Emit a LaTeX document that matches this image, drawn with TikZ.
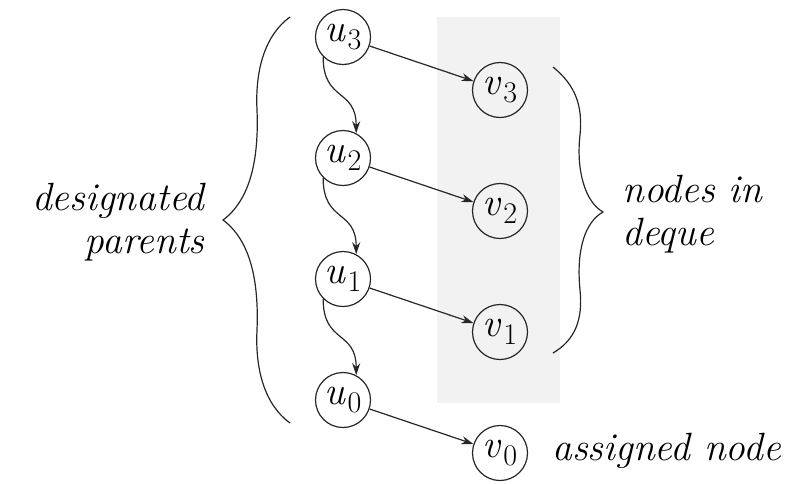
\documentclass[tikz,border=0pt]{standalone}
\usetikzlibrary{arrows.meta}
\newcommand{\vlabel}[2]{\textit{#1}\kern0.6pt\raisebox{-4pt}{\fontsize{15}{15}\selectfont #2}}
\begin{document}
\begin{tikzpicture}[x=0.5pt, y=-0.5pt, node distance=60.5pt, font=\fontsize{19.7}{21.5}\selectfont,
		vert/.style={circle, draw=black!85, line width=0.6pt, minimum size=27.5pt, inner sep=0pt},
		link/.style={-{Stealth[length=6pt, width=4pt]}, draw=black!85, line width=0.6pt},
		curly/.style={draw=black!85, line width=0.6pt},
		note/.style={font=\fontsize{19.7}{21.5}\selectfont\itshape, inner sep=0pt}]
	\useasboundingbox (0,0) rectangle (801,483);
	% deque band
	\fill[black!5] (437,17) rectangle (560,403);
	\node[vert] (u3) at (343,37) {\vlabel{u}{3}};
	\node[vert, below of=u3] (u2) {\vlabel{u}{2}};
	\node[vert, below of=u2] (u1) {\vlabel{u}{1}};
	\node[vert, below of=u1] (u0) {\vlabel{u}{0}};
	\node[vert, right of=u3, xshift=18pt, yshift=-26.5pt] (v3) {\vlabel{v}{3}};
	\node[vert, right of=u2, xshift=18pt, yshift=-26.5pt] (v2) {\vlabel{v}{2}};
	\node[vert, right of=u1, xshift=18pt, yshift=-26.5pt] (v1) {\vlabel{v}{1}};
	\node[vert, right of=u0, xshift=18pt, yshift=-26.5pt] (v0) {\vlabel{v}{0}};
	\node[note, align=right, anchor=east] (parents) at (205,222) {designated\\parents};
	\node[note, align=left, anchor=west] (deque) at (622,214) {nodes in\\deque};
	\node[note, anchor=base west] (assigned) at (552,460) {assigned node};
	% edges
	\draw[link] (u3) -- (v3);
	\draw[link] (u2) -- (v2);
	\draw[link] (u1) -- (v1);
	\draw[link] (u0) -- (v0);
	\draw[link] (u3.-135) .. controls +(0,45) and +(0,-45) .. (u2.62);
	\draw[link] (u2.-135) .. controls +(0,45) and +(0,-45) .. (u1.62);
	\draw[link] (u1.-135) .. controls +(0,45) and +(0,-45) .. (u0.62);
	% braces
	\draw[curly] (290,17) .. controls (265,35) and (255,70) .. (257,110)
		.. controls (259,160) and (250,200) .. (223,220)
		.. controls (250,240) and (259,280) .. (257,330)
		.. controls (255,370) and (265,405) .. (290,423);
	\draw[curly] (553,67) .. controls (575,85) and (583,105) .. (580,135)
		.. controls (576,170) and (585,202) .. (603,212)
		.. controls (585,222) and (576,250) .. (580,290)
		.. controls (583,320) and (575,340) .. (553,353);
\end{tikzpicture}
\end{document}
